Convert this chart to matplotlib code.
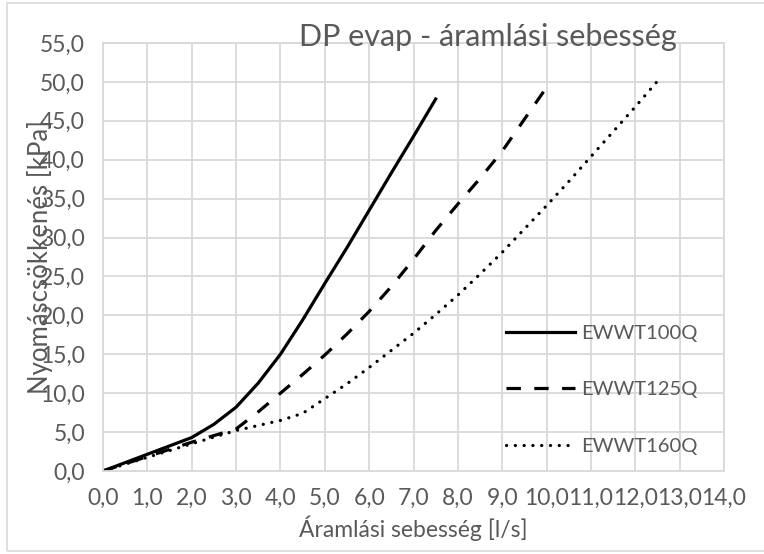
import matplotlib
matplotlib.use('Agg')
import matplotlib.pyplot as plt
from matplotlib.ticker import FuncFormatter, MultipleLocator
from matplotlib.patches import Rectangle

plt.rcParams['font.family'] = ['Lato', 'DejaVu Sans']

# data
q100 = [0.0, 2.0, 2.5, 3.0, 3.5, 4.0, 4.5, 5.0, 5.5, 6.0, 6.5, 7.0, 7.5]
dp100 = [0.0, 4.3, 6.0, 8.2, 11.3, 15.0, 19.4, 24.1, 28.7, 33.5, 38.3, 43.0, 47.8]

q125 = [0.0, 2.0, 3.0, 3.5, 4.0, 4.5, 5.0, 5.5, 6.0, 6.5, 7.0, 7.5, 8.0, 8.5, 9.0, 9.5, 10.0]
dp125 = [0.0, 3.7, 5.4, 7.6, 10.0, 12.4, 14.9, 17.6, 20.5, 23.7, 27.2, 30.9, 34.3, 37.6, 41.1, 45.2, 49.3]

q160 = [0.0, 2.0, 3.0, 4.0, 4.5, 5.0, 5.5, 6.0, 6.5, 7.0, 7.5, 8.0, 8.5, 9.0,
        9.5, 10.0, 10.5, 11.0, 11.5, 12.0, 12.5]
dp160 = [0.0, 3.5, 5.2, 6.5, 7.4, 9.3, 11.2, 13.3, 15.5, 17.7, 20.1, 22.6, 25.3, 28.1,
         31.1, 34.1, 37.2, 40.4, 43.6, 46.8, 50.1]

labels = ['EWWT100Q', 'EWWT125Q', 'EWWT160Q']

grey_txt = '#595959'
grey_grid = '#d9d9d9'

fig = plt.figure(figsize=(7.64, 5.54), dpi=100)
ax = fig.add_axes([103/764, 1 - 471/554, (724 - 103)/764, (471 - 43)/554])

# outer chart border
fig.patches.append(Rectangle((7/764, 3/554), 1.0, 1 - 6/554, transform=fig.transFigure,
                             fill=False, edgecolor=grey_grid, linewidth=1.2))

ax.plot(q100, dp100, color='black', lw=2.3, label=labels[0])
ax.plot(q125, dp125, color='black', lw=2.3, linestyle=(0, (4.5, 4.2)), label=labels[1])
ax.plot(q160, dp160, color='black', lw=2.3, linestyle=(0, (0.05, 2.7)),
        dash_capstyle='round', label=labels[2])

ax.set_xlim(0, 14)
ax.set_ylim(0, 55)
ax.xaxis.set_major_locator(MultipleLocator(1))
ax.yaxis.set_major_locator(MultipleLocator(5))
fmt = FuncFormatter(lambda v, p: f'{v:.1f}'.replace('.', ','))
ax.xaxis.set_major_formatter(fmt)
ax.yaxis.set_major_formatter(fmt)
ax.grid(True, color=grey_grid, linewidth=1.3)
ax.set_axisbelow(True)
for s in ax.spines.values():
    s.set_color(grey_grid)
    s.set_linewidth(1.3)
ax.tick_params(length=0, labelsize=16.5, colors=grey_txt)
ax.tick_params(axis='x', pad=12)
ax.tick_params(axis='y', pad=13)

ax.set_xlabel('Áramlási sebesség [l/s]', fontsize=16.5, color=grey_txt, labelpad=5)
ax.set_ylabel('Nyomáscsökkenés [kPa]', fontsize=18.5, color=grey_txt)
ax.yaxis.set_label_coords(-0.08, 0.5)

fig.text(488/764, 1 - 37/554, 'DP evap - áramlási sebesség', fontsize=22,
         color=grey_txt, ha='center', va='center')

ax.legend(loc='lower left', bbox_to_anchor=(0.62, -0.004), frameon=False, fontsize=14.5,
          labelcolor=grey_txt, handlelength=3.4, handletextpad=0.3, labelspacing=1.95)

plt.savefig('out.png', dpi=100)
